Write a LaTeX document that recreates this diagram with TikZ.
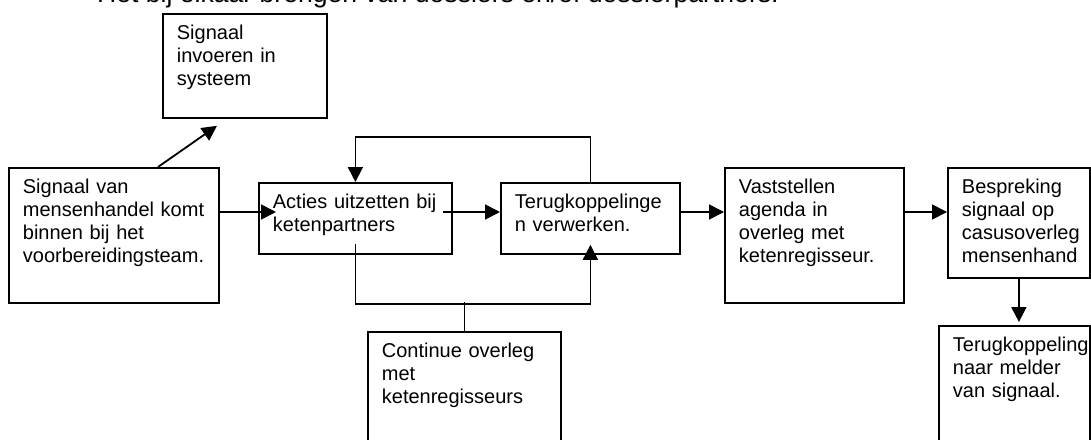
\documentclass[tikz,border=0pt]{standalone}
\usepackage{fontspec}
\setmainfont{Liberation Sans}
\usetikzlibrary{arrows.meta,calc}
\hyphenpenalty=10000
\tikzstyle{box} = [draw, line width=0.9pt, anchor=north west, align=left, inner xsep=7pt, inner ysep=0pt, text height=13pt, font=\fontsize{10}{11.5}\selectfont]
\tikzstyle{arrow} = [line width=0.9pt, -{Triangle[length=7.5pt,width=7.5pt]}]
\tikzstyle{line} = [line width=0.9pt]

\begin{document}
\begin{tikzpicture}[x=0.5pt, y=-0.5pt]
	\useasboundingbox (0,0) rectangle (1091,439);
	\node[anchor=base west, font=\fontsize{13.3}{15}\selectfont](titel) at (90,3){Het bij elkaar brengen van dossiers en/of dossierpartners.};

	\node[box, text width=68pt, text depth=39pt](invoer) at (162,13){Signaal\\invoeren in\\systeem};
	\node[box, text width=91pt, text depth=54.5pt](signaal) at (8,167){Signaal van\\mensenhandel komt\\binnen bij het\\voorbereidingsteam.};
	\node[box, text width=82.5pt, text depth=22.5pt](acties) at (258,182){Acties uitzetten bij\\ketenpartners};
	\node[box, text width=75.5pt, text depth=22.5pt](terug) at (500,182){Terugkoppelinge\\n verwerken.};
	\node[box, text width=82.5pt, text depth=57pt](overleg) at (367,331){Continue overleg\\met\\ketenregisseurs};
	\node[box, text width=75.5pt, text depth=54.5pt](vast) at (724,167){Vaststellen\\agenda in\\overleg met\\ketenregisseur.};
	\node[box, text width=57pt, text depth=42pt](besp) at (947,167){Bespreking\\signaal op\\casusoverleg\\mensenhand};
	\node[box, text width=61.5pt, text depth=57pt](melder) at (938,325){Terugkoppeling\\naar melder\\van signaal.};
	\coordinate (rij) at (0,212);

	\draw[arrow]($(signaal.north west)+(150,0)$) -- ($(invoer.south west)+(55,7)$);
	\draw[arrow](signaal.east |- rij) -- ($(acties.west |- rij)+(18,0)$);
	\draw[arrow]($(acties.east |- rij)+(-10,0)$) -- (terug.west |- rij);
	\draw[arrow](terug.north) -- ++(0,-45) -| (acties.north);
	\draw[arrow]($(acties.south)+(0,-11)$) -- ++(0,60) -| ($(terug.south)+(0,-10)$);
	\draw[line](overleg.north) -- ++(0,-29);
	\draw[arrow](terug.east |- rij) -- (vast.west |- rij);
	\draw[arrow](vast.east |- rij) -- (besp.west |- rij);
	\draw[arrow](besp.south) -- ($(besp.south |- melder.north)+(0,-3)$);
\end{tikzpicture}
\end{document}
